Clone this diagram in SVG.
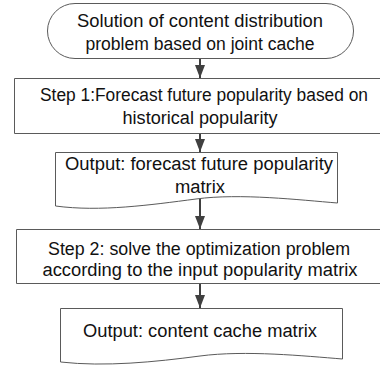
<svg xmlns="http://www.w3.org/2000/svg" width="380" height="372" viewBox="0 0 380 372">
  <defs>
    <marker id="arrow" viewBox="0 0 13 10" refX="13" refY="5" markerWidth="13" markerHeight="10" markerUnits="userSpaceOnUse" orient="auto">
      <path d="M0,0 L13,5 L0,10 Z" fill="#404040"/>
    </marker>
    <style>
      .shape { fill: #ffffff; stroke: #5a5a5a; stroke-width: 1; }
      .label { font-family: "Liberation Sans", Arial, sans-serif; font-size: 18px; fill: #111111; text-anchor: middle; }
      .conn { stroke: #404040; stroke-width: 2; fill: none; marker-end: url(#arrow); }
    </style>
  </defs>
  <rect width="380" height="372" fill="#ffffff"/>

  <!-- start terminator -->
  <g id="start">
    <rect class="shape" x="47.5" y="3.5" width="306" height="55" rx="27.5" ry="27.5"/>
    <text class="label" x="200" y="27" textLength="246" lengthAdjust="spacingAndGlyphs">Solution of content distribution</text>
    <text class="label" x="200" y="50" textLength="229" lengthAdjust="spacingAndGlyphs">problem based on joint cache</text>
  </g>

  <!-- step 1 process (box runs off the right edge) -->
  <g id="step1">
    <path class="shape" d="M380,78.5 H14.5 V133.5 H380"/>
    <text class="label" x="204" y="101" textLength="328" lengthAdjust="spacingAndGlyphs">Step 1:Forecast future popularity based on</text>
    <text class="label" x="200" y="124" textLength="155" lengthAdjust="spacingAndGlyphs">historical popularity</text>
  </g>

  <!-- forecast output document -->
  <g id="output1">
    <path class="shape" d="M55.5,152.5 H337.5 V203 C300,200 240,193 196,199 C150,205 100,212 55.5,206 Z"/>
    <text class="label" x="199" y="170" textLength="268" lengthAdjust="spacingAndGlyphs">Output: forecast future popularity</text>
    <text class="label" x="200" y="193" textLength="50" lengthAdjust="spacingAndGlyphs">matrix</text>
  </g>

  <!-- step 2 process (box runs off the right edge) -->
  <g id="step2">
    <path class="shape" d="M380,229.5 H16.5 V283.5 H380"/>
    <text class="label" x="199" y="255" textLength="302" lengthAdjust="spacingAndGlyphs">Step 2: solve the optimization problem</text>
    <text class="label" x="200" y="276" textLength="315" lengthAdjust="spacingAndGlyphs">according to the input popularity matrix</text>
  </g>

  <!-- cache output document -->
  <g id="output2">
    <path class="shape" d="M60.5,308.5 H342.5 V359 C305,356 245,350 200,356 C155,362 105,367 60.5,362 Z"/>
    <text class="label" x="200" y="337" textLength="234" lengthAdjust="spacingAndGlyphs">Output: content cache matrix</text>
  </g>

  <!-- connectors -->
  <g id="connectors">
    <line class="conn" x1="200" y1="59" x2="200" y2="78"/>
    <line class="conn" x1="200" y1="134" x2="200" y2="152"/>
    <line class="conn" x1="200" y1="199" x2="200" y2="229"/>
    <line class="conn" x1="200" y1="284" x2="200" y2="308"/>
  </g>
</svg>
